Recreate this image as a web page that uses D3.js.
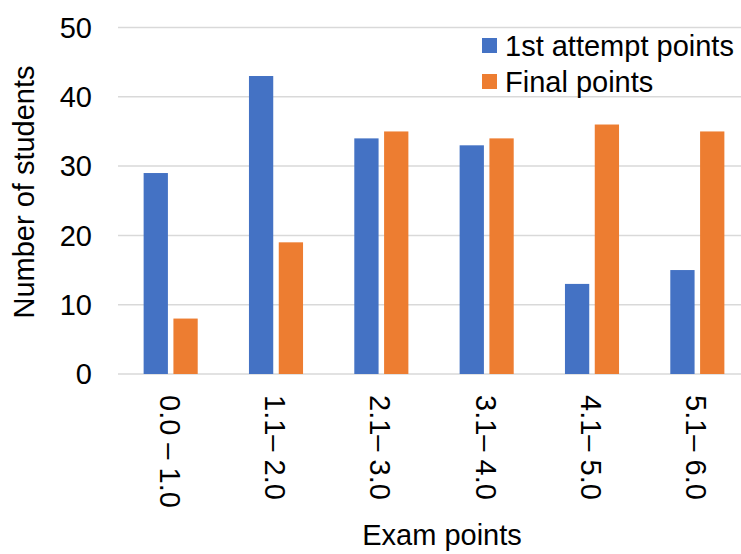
<!DOCTYPE html>
<html>
<head>
<meta charset="utf-8">
<script src="https://cdn.jsdelivr.net/npm/d3@7"></script>
<style>
  body { margin: 0; background: #fff; }
  text { font-family: "Liberation Sans", Arial, sans-serif; fill: #000; }
</style>
</head>
<body>
<svg width="741" height="554"></svg>
<script>
var categories = ["0.0 \u2013 1.0", "1.1\u2013 2.0", "2.1\u2013 3.0", "3.1\u2013 4.0", "4.1\u2013 5.0", "5.1\u2013 6.0"];
var series = ["1st attempt points", "Final points"];
var firstAttempt = [29, 43, 34, 33, 13, 15];
var finalPoints = [8, 19, 35, 34, 36, 35];
var yTicks = [0, 10, 20, 30, 40, 50];
var colors = ["#4472C4", "#ED7D31"];

var svg = d3.select("svg");
var plotLeft = 118, plotRight = 750, plotTop = 27.5, plotBottom = 374;
var fontSize = 29;

var y = d3.scaleLinear().domain([0, 50]).range([plotBottom, plotTop]);
var x0 = d3.scaleBand().domain(categories).range([plotLeft, plotRight]).padding(0);
var x1 = d3.scaleBand().domain(series).range([0, x0.bandwidth()])
  .paddingInner(0.185).paddingOuter(0.86);

// gridlines
svg.append("g")
  .selectAll("line")
  .data(yTicks)
  .enter()
  .append("line")
  .attr("x1", plotLeft)
  .attr("x2", 741)
  .attr("y1", function(d){ return y(d); })
  .attr("y2", function(d){ return y(d); })
  .attr("stroke", "#d9d9d9")
  .attr("stroke-width", 1.5);

// y tick labels
svg.append("g")
  .selectAll("text")
  .data(yTicks)
  .enter()
  .append("text")
  .text(function(d){ return d; })
  .attr("x", 92)
  .attr("y", function(d){ return y(d); })
  .attr("dy", "0.35em")
  .attr("text-anchor", "end")
  .style("font-size", fontSize + "px");

// bars
var rows = categories.map(function(c, i){
  return [
    {cat: c, s: series[0], v: firstAttempt[i], c: colors[0]},
    {cat: c, s: series[1], v: finalPoints[i], c: colors[1]}
  ];
});

svg.append("g")
  .selectAll("g")
  .data(rows)
  .enter()
  .append("g")
  .attr("transform", function(d){ return "translate(" + x0(d[0].cat) + ",0)"; })
  .selectAll("rect")
  .data(function(d){ return d; })
  .enter()
  .append("rect")
  .attr("x", function(d){ return x1(d.s); })
  .attr("y", function(d){ return y(d.v); })
  .attr("width", x1.bandwidth())
  .attr("height", function(d){ return plotBottom - y(d.v); })
  .attr("fill", function(d){ return d.c; });

// x tick labels (rotated)
svg.append("g")
  .selectAll("text")
  .data(categories)
  .enter()
  .append("text")
  .text(function(d){ return d; })
  .attr("transform", function(d){
    return "translate(" + (x0(d) + x0.bandwidth() / 2 - 1) + ",395) rotate(90)";
  })
  .attr("dy", "0.35em")
  .attr("text-anchor", "start")
  .style("font-size", fontSize + "px");

// axis titles
svg.append("text")
  .text("Exam points")
  .attr("x", 442)
  .attr("y", 545)
  .attr("text-anchor", "middle")
  .style("font-size", fontSize + "px");

svg.append("text")
  .text("Number of students")
  .attr("transform", "translate(34,192) rotate(-90)")
  .attr("text-anchor", "middle")
  .style("font-size", fontSize + "px");

// legend
var legend = svg.append("g")
  .selectAll("g")
  .data(series)
  .enter()
  .append("g")
  .attr("transform", function(d, i){ return "translate(482," + (38 + i * 36) + ")"; });

legend.append("rect")
  .attr("width", 15)
  .attr("height", 15)
  .attr("fill", function(d, i){ return colors[i]; });

legend.append("text")
  .text(function(d){ return d; })
  .attr("x", 23)
  .attr("y", 7.5)
  .attr("dy", "0.35em")
  .style("font-size", fontSize + "px");
</script>
</body>
</html>
